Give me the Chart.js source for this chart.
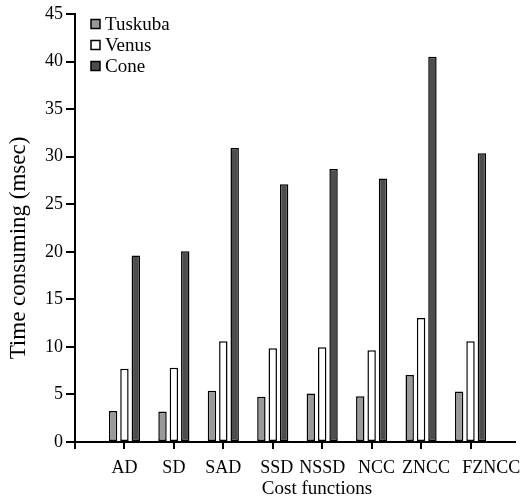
<!DOCTYPE html>
<html>
<head>
<meta charset="utf-8">
<script src="https://cdn.jsdelivr.net/npm/chart.js@4/dist/chart.umd.min.js"></script>
<style>
  html, body { margin: 0; padding: 0; background: #fff; }
  #wrap { width: 528px; height: 502px; }
</style>
</head>
<body>
<div id="wrap"><canvas id="myChart" width="528" height="502"></canvas></div>
<script>
const categories = ["AD", "SD", "SAD", "SSD", "NSSD", "NCC", "ZNCC", "FZNCC"];
const tuskuba = [3.25, 3.2, 5.4, 4.75, 5.1, 4.8, 7.05, 5.3];
const venus = [7.7, 7.8, 10.6, 9.85, 9.95, 9.65, 13.05, 10.6];
const cone = [19.6, 20.05, 30.9, 27.1, 28.7, 27.7, 40.5, 30.35];
const yTicks = [0, 5, 10, 15, 20, 25, 30, 35, 40, 45];

const serif = "'Liberation Serif', 'DejaVu Serif', serif";
// in the source the category names sit a little right of their tick marks
const labelShift = [0, 0, 0, 0.08, 0, 0.1, 0.1, 0.42];

function toPoints(arr) {
  return arr.map((v, i) => ({ x: i + 1, y: v }));
}

// legend inside the plot (vertical), category tick marks, axis titles
const extras = {
  id: "extras",
  afterDraw(chart) {
    const c = chart.ctx;
    const xs = chart.scales.x;
    const bottom = chart.chartArea.bottom;
    c.save();

    // tick marks under the x axis at each category
    c.strokeStyle = "#000";
    c.lineWidth = 2;
    c.beginPath();
    categories.forEach((name, i) => {
      const px = Math.round(xs.getPixelForValue(i + 1));
      c.moveTo(px, bottom);
      c.lineTo(px, bottom + 7);
    });
    c.stroke();

    const x0 = 91, y0 = 24, step = 21, box = 9;
    c.font = "19px " + serif;
    c.textBaseline = "middle";
    chart.data.datasets.forEach((ds, i) => {
      const y = y0 + i * step;
      c.fillStyle = ds.backgroundColor;
      c.fillRect(x0, y - box / 2, box, box);
      c.lineWidth = 1.5;
      c.strokeStyle = "#000";
      c.strokeRect(x0, y - box / 2, box, box);
      c.fillStyle = "#000";
      c.fillText(ds.label, x0 + 14, y + 1);
    });

    c.textAlign = "center";
    c.font = "19px " + serif;
    c.fillText("Cost functions", 317, 489);

    c.translate(19, 248);
    c.rotate(-Math.PI / 2);
    c.font = "23px " + serif;
    c.fillText("Time consuming (msec)", 0, 0);
    c.restore();
  },
};

var ctx = document.getElementById("myChart").getContext("2d");
var myChart = new Chart(ctx, {
  type: "bar",
  data: {
    datasets: [
      { label: "Tuskuba", data: toPoints(tuskuba), backgroundColor: "#999999" },
      { label: "Venus", data: toPoints(venus), backgroundColor: "#ffffff" },
      { label: "Cone", data: toPoints(cone), backgroundColor: "#4d4d4d" },
    ],
  },
  options: {
    responsive: false,
    animation: false,
    layout: { padding: { top: 14, right: 13, left: 0, bottom: 0 } },
    datasets: {
      bar: {
        borderColor: "#000",
        borderWidth: 1.5,
        borderSkipped: false,
        categoryPercentage: 0.69,
        barPercentage: 0.74,
      },
    },
    plugins: {
      legend: { display: false },
      tooltip: { enabled: false },
    },
    scales: {
      x: {
        type: "linear",
        offset: false,
        weight: 0,
        min: 0,
        max: 8.9,
        // half-step ticks: with offset grid lines the marks land on each category
        afterBuildTicks(scale) {
          scale.ticks = [0].concat(categories).map((c, i) => ({ value: i + 0.5 }));
        },
        afterFit(scale) {
          scale.height = 7;
        },
        ticks: { display: false },
        grid: {
          offset: true,
          drawOnChartArea: false,
          drawTicks: true,
          tickLength: 7,
          color: "#000",
          lineWidth: 2,
        },
        border: { display: true, color: "#000", width: 2 },
      },
      xl: {
        type: "linear",
        position: "bottom",
        offset: false,
        weight: 1,
        min: 0,
        max: 8.9,
        afterBuildTicks(scale) {
          scale.ticks = categories.map((c, i) => ({ value: i + 1 + labelShift[i] }));
        },
        afterFit(scale) {
          scale.height = 53;
        },
        ticks: {
          autoSkip: false,
          maxRotation: 0,
          padding: 0,
          color: "#000",
          font: { family: serif, size: 18 },
          callback: (v, i) => categories[i],
        },
        grid: { display: false, offset: false },
        border: { display: false },
      },
      y: {
        min: 0,
        max: 45,
        afterBuildTicks(scale) {
          scale.ticks = yTicks.map((v) => ({ value: v }));
        },
        afterFit(scale) {
          scale.width = 75;
        },
        ticks: {
          padding: 3,
          color: "#000",
          font: { family: serif, size: 18 },
        },
        grid: {
          drawOnChartArea: false,
          drawTicks: true,
          tickLength: 9,
          color: "#000",
          lineWidth: 2,
        },
        border: { display: true, color: "#000", width: 2 },
      },
    },
  },
  plugins: [extras],
});
</script>
</body>
</html>
